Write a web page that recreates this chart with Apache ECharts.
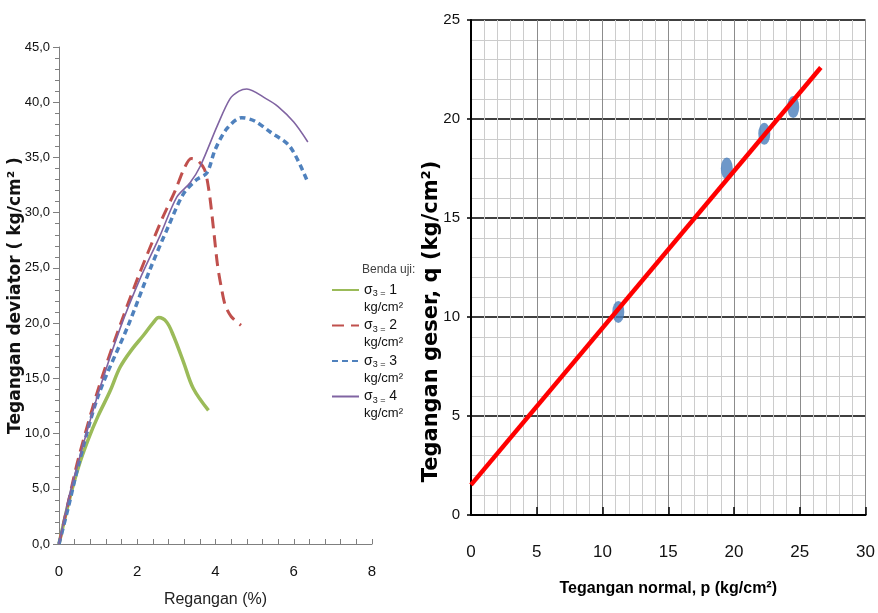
<!DOCTYPE html>
<html>
<head>
<meta charset="utf-8">
<script src="https://cdn.jsdelivr.net/npm/echarts@6/dist/echarts.min.js"></script>
<style>
html,body{margin:0;padding:0;background:#fff;}
#c{width:878px;height:613px;}
</style>
</head>
<body>
<div id="c"></div>
<script>
// ---- Left chart: deviator stress vs strain ----
const sigmaLabels = ['1', '2', '3', '4'];
const unitLabel = 'kg/cm²';
const legendTitle = 'Benda uji:';

const s1Strain = [0, 0.25, 0.5, 0.75, 1.0, 1.3, 1.56, 1.86, 2.16, 2.4, 2.55, 2.75, 2.92, 3.18, 3.43, 3.82];
const s1Stress = [0, 3.8, 7.0, 9.5, 11.6, 13.8, 16.0, 17.6, 18.9, 20.0, 20.5, 20.1, 18.9, 16.5, 14.1, 12.1];

const s2Strain = [0, 0.25, 0.5, 1.0, 1.56, 2.07, 2.63, 2.97, 3.2, 3.38, 3.55, 3.72, 3.84, 3.95, 4.05, 4.15, 4.25, 4.4, 4.65];
const s2Stress = [0, 4.0, 7.8, 14.0, 19.8, 24.6, 29.4, 32.0, 34.0, 34.9, 34.7, 33.9, 31.8, 28.5, 25.3, 23.2, 21.6, 20.6, 19.8];

const s3Strain = [0, 0.25, 0.5, 1.0, 1.77, 2.33, 2.8, 3.18, 3.52, 3.78, 3.99, 4.29, 4.67, 5.0, 5.4, 5.9, 6.33];
const s3Stress = [0, 3.5, 7.2, 13.4, 19.8, 24.9, 28.8, 31.7, 33.0, 33.6, 35.7, 37.6, 38.6, 38.3, 37.3, 36.0, 33.0];

const s4Strain = [0, 0.25, 0.54, 1.0, 1.56, 2.07, 2.58, 3.01, 3.35, 3.61, 4.05, 4.37, 4.6, 4.8, 5.3, 5.6, 6.0, 6.36];
const s4Stress = [0, 4.2, 8.0, 13.6, 19.5, 24.0, 27.9, 31.4, 32.7, 34.2, 37.9, 40.3, 41.0, 41.2, 40.3, 39.6, 38.2, 36.4];

const leftXTitle = 'Regangan (%)';
const leftYTitle = 'Tegangan deviator ( kg/cm² )';

// ---- Right chart: shear vs normal stress ----
const testNormal = [11.2, 19.45, 22.3, 24.5];
const testShear = [10.25, 17.5, 19.25, 20.6];
const fitNormal = [0, 26.6];
const fitShear = [1.52, 22.6];
const rightXTitle = 'Tegangan normal, p (kg/cm²)';
const rightYTitle = 'Tegangan geser, q (kg/cm²)';

const NARROW = "'Liberation Sans Narrow', 'Liberation Sans', Arial, sans-serif";
const BOLD = "'DejaVu Sans', 'Liberation Sans', sans-serif";

function pairs(xs, ys) { return xs.map((x, i) => [x, ys[i]]); }

const chart = echarts.init(document.getElementById('c'));
const lineColors = ['#9bbb59', '#c0504d', '#4f81bd', '#8064a2'];
const seriesNames = sigmaLabels.map(s => 'σ3 = ' + s);

chart.setOption({
  animation: false,
  backgroundColor: '#ffffff',
  title: [{
    text: legendTitle, left: 357, top: 259,
    textStyle: { fontFamily: NARROW, fontSize: 12, fontWeight: 'normal', color: '#404040' }
  }],
  legend: {
    orient: 'vertical', left: 326, top: 278,
    itemWidth: 27, itemHeight: 1, itemGap: 5,
    data: seriesNames,
    itemStyle: { opacity: 0 },
    formatter: function (name) {
      const v = name.split('= ')[1];
      return '{a|σ}{s|3 =}{a| ' + v + '}\n{b|' + unitLabel + '}';
    },
    textStyle: {
      padding: [17, 0, 0, 0],
      color: '#111',
      rich: {
        a: { fontFamily: NARROW, fontSize: 14, lineHeight: 17, color: '#111' },
        b: { fontFamily: NARROW, fontSize: 13, lineHeight: 17, color: '#111' },
        s: { fontFamily: NARROW, fontSize: 9, lineHeight: 17, verticalAlign: 'bottom', color: '#111' }
      }
    }
  },
  grid: [
    { left: 59, top: 47, width: 313, height: 499 },
    { left: 471, top: 20, width: 398, height: 495 }
  ],
  xAxis: [{
    gridIndex: 0, type: 'value', min: 0, max: 8, interval: 2,
    name: leftXTitle, nameLocation: 'middle', nameGap: 48, nameMoveOverlap: false,
    nameTextStyle: { fontFamily: NARROW, fontSize: 16, color: '#222' },
    axisLine: { lineStyle: { color: '#7f7f7f', width: 1 } },
    axisTick: { inside: true, length: 5, lineStyle: { color: '#7f7f7f' } },
    minorTick: { show: true, splitNumber: 5, length: 5, lineStyle: { color: '#7f7f7f' } },
    splitLine: { show: false },
    axisLabel: { fontFamily: NARROW, fontSize: 15, color: '#111', margin: 20 }
  }, {
    gridIndex: 1, type: 'value', min: 0, max: 30, interval: 5,
    name: rightXTitle, nameLocation: 'middle', nameGap: 66, nameMoveOverlap: false,
    nameTextStyle: { fontFamily: NARROW, fontSize: 16, fontWeight: 'bold', color: '#000' },
    axisLine: { lineStyle: { color: '#000', width: 2 } },
    axisTick: { inside: true, length: 8, lineStyle: { color: '#000', width: 1.5 } },
    splitLine: { show: true, lineStyle: { color: '#8c8c8c', width: 1 } },
    minorSplitLine: { show: true, lineStyle: { color: '#cccccc', width: 1 } },
    minorTick: { show: false, splitNumber: 5 },
    axisLabel: { fontFamily: NARROW, fontSize: 17, color: '#111', margin: 29 }
  }],
  yAxis: [{
    gridIndex: 0, type: 'value', min: 0, max: 45, interval: 5,
    name: leftYTitle, nameLocation: 'middle', nameGap: 35, nameMoveOverlap: false,
    nameTextStyle: { fontFamily: BOLD, fontSize: 17, fontWeight: 'bold', color: '#111' },
    axisLine: { show: true, lineStyle: { color: '#7f7f7f', width: 1 } },
    axisTick: { show: true, length: 6, lineStyle: { color: '#7f7f7f' } },
    minorTick: { show: true, splitNumber: 5, length: 4, lineStyle: { color: '#7f7f7f' } },
    splitLine: { show: false },
    axisLabel: {
      fontFamily: NARROW, fontSize: 13, color: '#111', margin: 9,
      formatter: v => v.toFixed(1).replace('.', ',')
    }
  }, {
    gridIndex: 1, type: 'value', min: 0, max: 25, interval: 5,
    name: rightYTitle, nameLocation: 'middle', nameGap: 29, nameMoveOverlap: false,
    nameTextStyle: { fontFamily: BOLD, fontSize: 21, fontWeight: 'bold', color: '#000', padding: [0, 108, 0, 0] },
    axisLine: { show: true, lineStyle: { color: '#000', width: 2 } },
    axisTick: { show: true, length: 4, lineStyle: { color: '#000', width: 1.5 } },
    splitLine: { show: true, lineStyle: { color: '#000', width: 1.5 } },
    minorSplitLine: { show: true, lineStyle: { color: '#cccccc', width: 1 } },
    minorTick: { show: false, splitNumber: 5 },
    axisLabel: { fontFamily: NARROW, fontSize: 15, color: '#111', margin: 11 }
  }],
  series: [
    {
      name: seriesNames[0], type: 'line', xAxisIndex: 0, yAxisIndex: 0,
      data: pairs(s1Strain, s1Stress), smooth: 0.35, symbol: 'none',
      color: lineColors[0], lineStyle: { color: lineColors[0], width: 3.5 }
    },
    {
      name: seriesNames[1], type: 'line', xAxisIndex: 0, yAxisIndex: 0,
      data: pairs(s2Strain, s2Stress), smooth: 0.3, symbol: 'none',
      color: lineColors[1], lineStyle: { color: lineColors[1], width: 3, type: [12, 7] }
    },
    {
      name: seriesNames[2], type: 'line', xAxisIndex: 0, yAxisIndex: 0,
      data: pairs(s3Strain, s3Stress), smooth: 0.3, symbol: 'none',
      color: lineColors[2], lineStyle: { color: lineColors[2], width: 3.5, type: [6, 4] }
    },
    {
      name: seriesNames[3], type: 'line', xAxisIndex: 0, yAxisIndex: 0,
      data: pairs(s4Strain, s4Stress), smooth: 0.3, symbol: 'none',
      color: lineColors[3], lineStyle: { color: lineColors[3], width: 1.6 }
    },
    {
      name: 'uji', type: 'scatter', xAxisIndex: 1, yAxisIndex: 1,
      data: pairs(testNormal, testShear), symbol: 'circle', symbolSize: [12, 22],
      itemStyle: { color: '#4a7ebb' }, z: 3
    },
    {
      name: 'fit', type: 'line', xAxisIndex: 1, yAxisIndex: 1,
      data: pairs(fitNormal, fitShear), symbol: 'none',
      lineStyle: { color: '#ff0000', width: 4.5 }, z: 4
    }
  ]
});
</script>
</body>
</html>
